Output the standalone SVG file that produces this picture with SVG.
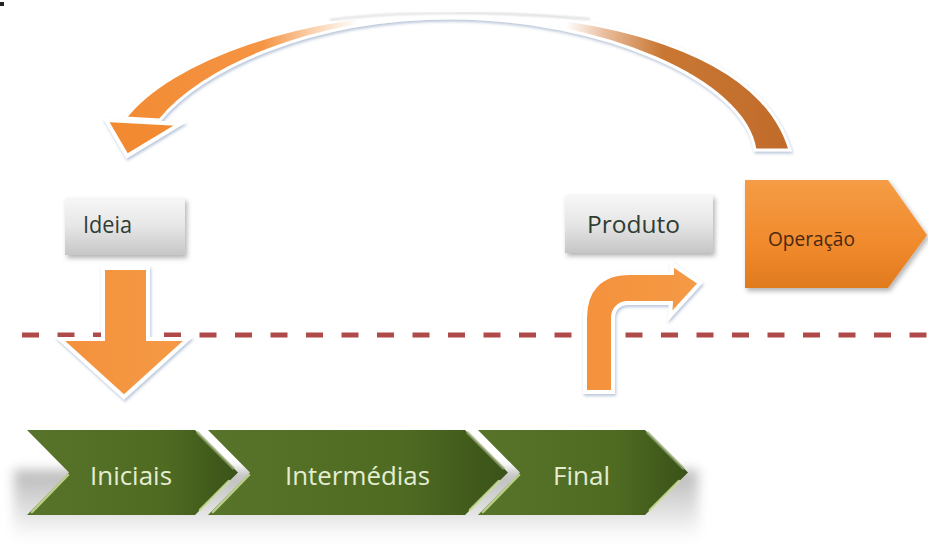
<svg xmlns="http://www.w3.org/2000/svg" width="928" height="551" viewBox="0 0 928 551">
<defs>
<style>
.lbl{font-family:"Open Sans","Liberation Sans",sans-serif;}
.box{fill:url(#gBox);filter:url(#boxsh);}
.boxt{font-size:23px;fill:#2f3d33;}
.chev{fill:url(#gChev);}
.chevt{font-size:26px;fill:#e4ecd2;}
.bev{fill:none;stroke:#cfe09c;stroke-width:2.5;stroke-opacity:0.85;stroke-linecap:round;}
.bevd{fill:none;stroke:#9cae7c;stroke-width:3;stroke-opacity:0.7;}
.arr{fill:url(#gOr);stroke:#fff;stroke-width:4;stroke-linejoin:miter;filter:url(#glow);}
</style>
<linearGradient id="gBox" x1="0" y1="0" x2="0" y2="1">
<stop offset="0" stop-color="#f7f7f7"/><stop offset="0.5" stop-color="#e6e6e6"/><stop offset="1" stop-color="#c6c6c6"/>
</linearGradient>
<linearGradient id="gOp" x1="0" y1="0" x2="0" y2="1">
<stop offset="0" stop-color="#f59c45"/><stop offset="0.6" stop-color="#f08a2c"/><stop offset="1" stop-color="#e07a1e"/>
</linearGradient>
<linearGradient id="gOr" x1="0" y1="0" x2="1" y2="0">
<stop offset="0" stop-color="#f4913c"/><stop offset="1" stop-color="#f59a46"/>
</linearGradient>
<linearGradient id="gChev" x1="0" y1="0" x2="1" y2="0">
<stop offset="0" stop-color="#57742a"/><stop offset="0.65" stop-color="#4f6b22"/><stop offset="1" stop-color="#3a5218"/>
</linearGradient>
<linearGradient id="gRib" gradientUnits="userSpaceOnUse" x1="110" y1="0" x2="800" y2="0">
<stop offset="0" stop-color="#f28a33"/>
<stop offset="0.22" stop-color="#f59443"/>
<stop offset="0.30" stop-color="#fbd6b6"/>
<stop offset="0.36" stop-color="#ffffff"/>
<stop offset="0.66" stop-color="#ffffff"/>
<stop offset="0.72" stop-color="#e8ba98"/>
<stop offset="0.80" stop-color="#c97733"/>
<stop offset="1" stop-color="#c06a2a"/>
</linearGradient>
<linearGradient id="gSh" x1="0" y1="0" x2="0" y2="1">
<stop offset="0" stop-color="#9a9a9a"/><stop offset="1" stop-color="#ffffff"/>
</linearGradient>
<filter id="glow" x="-20%" y="-20%" width="140%" height="140%">
<feDropShadow dx="1" dy="2" stdDeviation="1.5" flood-color="#7d95b8" flood-opacity="0.55"/>
</filter>
<filter id="boxsh" x="-20%" y="-20%" width="140%" height="150%">
<feDropShadow dx="2" dy="3" stdDeviation="2.5" flood-color="#000" flood-opacity="0.3"/>
</filter>
<filter id="blur6" x="-10%" y="-30%" width="120%" height="160%">
<feGaussianBlur stdDeviation="6"/>
</filter>
<filter id="blur1"><feGaussianBlur stdDeviation="0.8"/></filter>
<filter id="blurdash" filterUnits="userSpaceOnUse" x="0" y="325" width="928" height="20"><feGaussianBlur stdDeviation="0.6"/></filter>
</defs>

<rect width="928" height="551" fill="#ffffff"/>
<rect x="0" y="2" width="4" height="4" fill="#222"/>

<g id="separator">
<line x1="22" y1="335" x2="928" y2="335" stroke="#b04a48" stroke-width="5" stroke-dasharray="17 18.5" filter="url(#blurdash)"/>
</g>

<g id="node-operacao">
<polygon points="745,180 888,180 927,235 888,288 745,288" fill="url(#gOp)" filter="url(#boxsh)"/>
<text class="lbl" x="768" y="246" font-size="20" fill="#4a2812" textLength="87" lengthAdjust="spacingAndGlyphs">Operação</text>
</g>

<g id="node-ideia">
<rect class="box" x="65" y="198" width="120" height="57"/>
<text class="lbl boxt" x="83" y="233" textLength="49" lengthAdjust="spacingAndGlyphs">Ideia</text>
</g>

<g id="node-produto">
<rect class="box" x="565" y="195" width="148" height="58"/>
<text class="lbl boxt" x="587" y="233" textLength="93" lengthAdjust="spacingAndGlyphs">Produto</text>
</g>

<g id="stages">
<rect x="14" y="470" width="684" height="70" fill="url(#gSh)" opacity="0.7" filter="url(#blur6)"/>
<g id="node-iniciais">
<polygon class="chev" points="27,430 195,430 238,472.5 195,515 27,515 69,472.5"/>
<line class="bev" x1="68" y1="475" x2="32" y2="512"/>
<line class="bevd" x1="197" y1="432" x2="234" y2="469"/>
<line class="bev" x1="229" y1="481" x2="200" y2="510"/>
<text class="lbl chevt" x="90" y="485" textLength="82" lengthAdjust="spacingAndGlyphs">Iniciais</text>
</g>
<g id="node-intermedias">
<polygon class="chev" points="208,430 465,430 508,472.5 465,515 208,515 250,472.5"/>
<line class="bev" x1="249" y1="475" x2="213" y2="512"/>
<line class="bevd" x1="467" y1="432" x2="504" y2="469"/>
<line class="bev" x1="499" y1="481" x2="470" y2="510"/>
<text class="lbl chevt" x="285" y="485" textLength="145" lengthAdjust="spacingAndGlyphs">Intermédias</text>
</g>
<g id="node-final">
<polygon class="chev" points="478,430 645,430 688,472.5 645,515 478,515 520,472.5"/>
<line class="bev" x1="519" y1="475" x2="483" y2="512"/>
<line class="bevd" x1="647" y1="432" x2="684" y2="469"/>
<line class="bev" x1="679" y1="481" x2="650" y2="510"/>
<text class="lbl chevt" x="553" y="485" textLength="57" lengthAdjust="spacingAndGlyphs">Final</text>
</g>
</g>

<g id="connectors">
<g id="loop-arrow">
<path d="M125,118 C170,60 300,12 450,12 C600,12 760,50 790,150 L755,150 C745,80 600,18 450,18 C310,18 200,70 160,120 Z" fill="url(#gRib)" stroke="#fff" stroke-width="3" filter="url(#glow)"/>
<polygon points="106,120 180,124 127,156" fill="#f28a33" stroke="#fff" stroke-width="4" filter="url(#glow)"/>
<path d="M330,20 C400,11 500,11 590,19" fill="none" stroke="#b8b8b8" stroke-width="1.5" opacity="0.7" filter="url(#blur1)"/>
</g>
<path id="down-arrow" class="arr" d="M103,268 L148,268 L148,339 L188,339 L124,397 L60,339 L103,339 Z"/>
<path id="bent-arrow" class="arr" d="M585,392 L585,318 C585,290 600,273 630,273 L672,273 L672,264 L700,283 L670,316 L671,303 L628,303 C618,303 613,310 613,318 L613,392 Z"/>
</g>
</svg>
